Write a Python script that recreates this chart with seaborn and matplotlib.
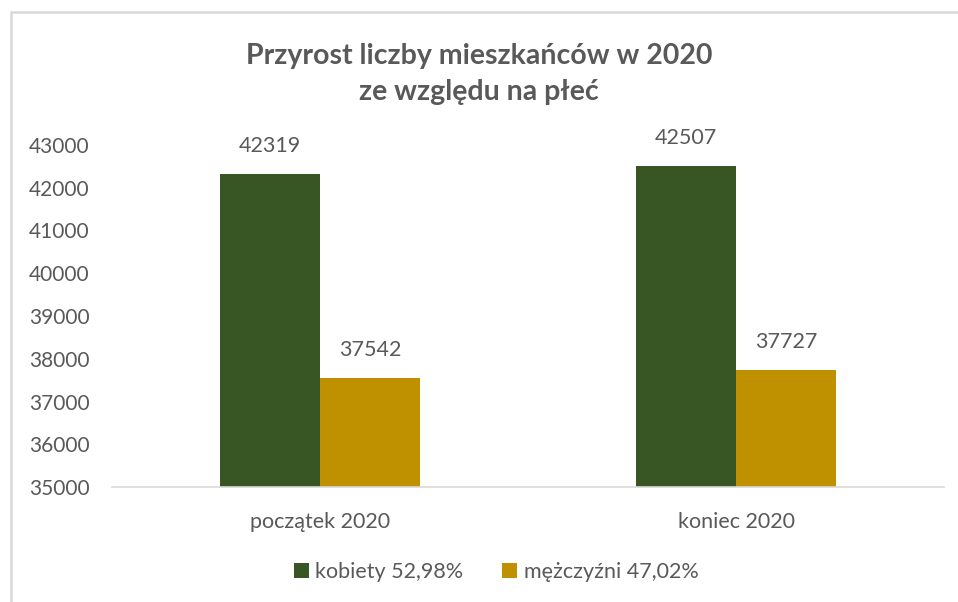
import matplotlib
matplotlib.use("Agg")
import matplotlib.pyplot as plt
import seaborn as sns
import pandas as pd
from matplotlib.patches import Rectangle, Patch

categories = ["początek 2020", "koniec 2020"]
series_names = ["kobiety 52,98%", "mężczyźni 47,02%"]
kobiety = [42319, 42507]
mezczyzni = [37542, 37727]
y_ticks = [35000, 36000, 37000, 38000, 39000, 40000, 41000, 42000, 43000]
title = "Przyrost liczby mieszkańców w 2020\nze względu na płeć"

colors = ["#375623", "#BF9000"]
text_color = "#595959"

df = pd.DataFrame({
    "okres": categories * 2,
    "plec": [series_names[0]] * 2 + [series_names[1]] * 2,
    "wartosc": kobiety + mezczyzni,
})

sns.set_theme(style="white")
plt.rcParams["font.family"] = ["Lato", "DejaVu Sans"]

fig = plt.figure(figsize=(9.58, 6.02), dpi=100)
ax = fig.add_axes([112 / 958, 1 - 487 / 602, (944 - 112) / 958, (487 - 145) / 602])

sns.barplot(data=df, x="okres", y="wartosc", hue="plec", palette=colors,
            width=0.48, gap=0, ax=ax, legend=False, saturation=1, errorbar=None,
            linewidth=0)

ax.set_xlim(-0.5, 1.5)
ax.set_ylim(y_ticks[0], y_ticks[-1])
ax.set_yticks(y_ticks)
ax.set_yticklabels([str(v) for v in y_ticks])
ax.set_xlabel("")
ax.set_ylabel("")
ax.tick_params(axis="y", length=0, pad=16, labelsize=15, labelcolor=text_color)
ax.tick_params(axis="x", length=0, pad=18, labelsize=15.5, labelcolor=text_color)
for s in ["top", "right", "left"]:
    ax.spines[s].set_visible(False)
ax.spines["bottom"].set_color("#D9D9D9")
ax.spines["bottom"].set_linewidth(1.2)
ax.grid(False)

for cont in ax.containers:
    ax.bar_label(cont, labels=[str(int(v)) for v in cont.datavalues],
                 padding=13, fontsize=15.5, color=text_color)

fig.text(0.5, 1 - 74 / 602, title, ha="center", va="center", fontsize=20.5,
         fontweight="bold", color=text_color, linespacing=1.5)

handles = [Patch(facecolor=c, edgecolor="none") for c in colors]
fig.legend(handles, series_names, loc="center", bbox_to_anchor=(496 / 958, 1 - 572 / 602),
           ncol=2, frameon=False, fontsize=15.5, labelcolor=text_color,
           handlelength=0.7, handleheight=0.7, handletextpad=0.3, columnspacing=1.8)

fig.patches.append(Rectangle((11 / 958, -0.05), 1.1, 1 - 12 / 602 + 0.05,
                             transform=fig.transFigure, fill=False,
                             edgecolor="#D9D9D9", linewidth=1.8, zorder=0))

fig.savefig("out.png", dpi=100)
